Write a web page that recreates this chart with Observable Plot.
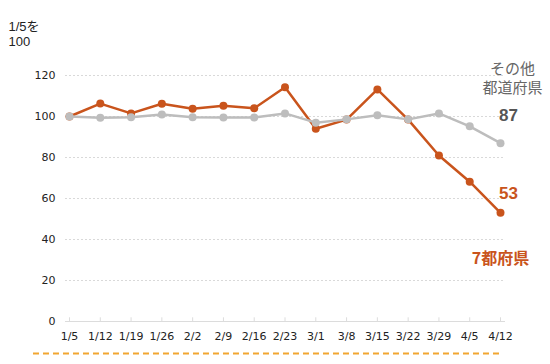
<!DOCTYPE html>
<html>
<head>
<meta charset="utf-8">
<script src="https://cdn.jsdelivr.net/npm/d3@7"></script>
<script src="https://cdn.jsdelivr.net/npm/@observablehq/plot@0.6"></script>
<style>
  html, body { margin: 0; padding: 0; background: #fff; }
  #chart svg { display: block; }
</style>
</head>
<body>
<div id="chart"></div>
<script>
const weeks = ["1/5","1/12","1/19","1/26","2/2","2/9","2/16","2/23","3/1","3/8","3/15","3/22","3/29","4/5","4/12"];
const sevenPrefs = [100, 106.3, 101.5, 106.2, 103.8, 105.3, 104, 114.3, 94, 98.5, 113.2, 98.5, 81, 68.2, 53];
const otherPrefs = [100, 99.4, 99.6, 101, 99.6, 99.5, 99.5, 101.5, 97, 98.6, 100.6, 98.6, 101.5, 95.2, 87];
const yTicks = [0, 20, 40, 60, 80, 100, 120];
const seriesNames = ["7都府県", "その他\n都道府県"];
const unitNote = "1/5を\n100";

const orange = "#c9541c";
const gray = "#bdbdbd";

const rowsA = weeks.map((w, i) => ({week: w, value: sevenPrefs[i]}));
const rowsB = weeks.map((w, i) => ({week: w, value: otherPrefs[i]}));
const lastA = [rowsA[rowsA.length - 1]];
const lastB = [rowsB[rowsB.length - 1]];

const chart = Plot.plot({
  width: 550,
  height: 364,
  marginLeft: 69,
  marginRight: 50,
  marginTop: 75,
  marginBottom: 43,
  style: {fontFamily: "'DejaVu Sans', sans-serif", fontSize: "11px", color: "#222", background: "#fff"},
  x: {type: "point", domain: weeks, padding: 0, round: false, label: null, tickSize: 0, tickPadding: 11},
  y: {domain: [0, 120], ticks: yTicks, label: null, tickSize: 0, tickPadding: 14},
  marks: [
    Plot.ruleY(yTicks.filter(d => d > 0), {stroke: "#d9d9d9", strokeDasharray: "2,2", strokeWidth: 1, insetLeft: -4, insetRight: -5}),
    Plot.ruleY([0], {stroke: "#dcdcdc", strokeWidth: 1, insetLeft: -4, insetRight: -5}),
    Plot.ruleX(weeks, {x: d => d, y1: 0, y2: 1.8, stroke: "#dcdcdc"}),
    Plot.ruleY([0], {dy: 32, stroke: "#f2a630", strokeWidth: 2, strokeDasharray: "6,4", insetLeft: -36, insetRight: -3}),
    Plot.line(rowsA, {x: "week", y: "value", stroke: orange, strokeWidth: 2.5}),
    Plot.dot(rowsA, {x: "week", y: "value", fill: orange, r: 4}),
    Plot.line(rowsB, {x: "week", y: "value", stroke: gray, strokeWidth: 2.5}),
    Plot.dot(rowsB, {x: "week", y: "value", fill: gray, r: 4}),
    Plot.text(lastB, {x: "week", y: "value", text: d => String(Math.round(d.value)), dx: 8, dy: -28, fill: "#555", fontSize: 17, fontWeight: "bold", fontFamily: "'Liberation Sans', Arial, sans-serif"}),
    Plot.text(lastB, {x: "week", y: "value", text: () => seriesNames[1], dx: 12, dy: -50, lineAnchor: "bottom", lineHeight: 1.27, fill: "#666", fontSize: 15, fontFamily: "'Noto Sans CJK JP', sans-serif"}),
    Plot.text(lastA, {x: "week", y: "value", text: d => String(Math.round(d.value)), dx: 8, dy: -19, fill: orange, fontSize: 17, fontWeight: "bold", fontFamily: "'Liberation Sans', Arial, sans-serif"}),
    Plot.text(lastA, {x: "week", y: "value", text: () => seriesNames[0], dx: 0, dy: 46, fill: orange, fontSize: 16, fontWeight: "bold", fontFamily: "'Noto Sans CJK JP', sans-serif"}),
    Plot.text([unitNote], {text: d => d, frameAnchor: "top-left", dx: -61, dy: -56, textAnchor: "start", lineAnchor: "top", lineHeight: 1.2, fontSize: 13, fill: "#222", fontFamily: "'Liberation Sans', 'Noto Sans CJK JP', sans-serif"})
  ]
});
document.getElementById("chart").appendChild(chart);
</script>
</body>
</html>
